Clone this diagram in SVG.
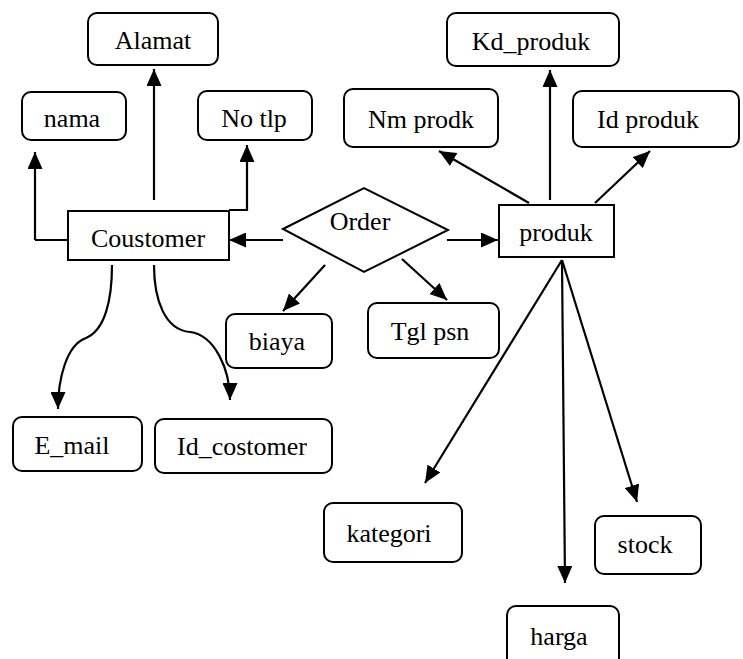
<svg xmlns="http://www.w3.org/2000/svg" width="743" height="659" viewBox="0 0 743 659">
<defs>
<marker id="ah" markerUnits="userSpaceOnUse" markerWidth="17" markerHeight="15" refX="17" refY="7.5" orient="auto" viewBox="0 0 17 15">
<path d="M0,0 L17,7.5 L0,15 z" fill="#000"/>
</marker>
</defs>
<style>
.attr{fill:#fff;stroke:#000;stroke-width:2}
.ent{fill:#fff;stroke:#000;stroke-width:2}
.t{font-family:'Liberation Serif','DejaVu Serif',serif;font-size:26px;fill:#000;text-anchor:middle}
.c{fill:none;stroke:#000;stroke-width:2.2}
.a{fill:none;stroke:#000;stroke-width:2.2;marker-end:url(#ah)}
</style>
<rect width="743" height="659" fill="#fff"/>
<g id="connectors">
<polyline class="c" points="68,240 35,240"/>
<line class="a" x1="35" y1="240" x2="35" y2="152"/>
<line class="a" x1="154" y1="200" x2="154" y2="69"/>
<polyline class="a" points="229,210 247,210 247,145"/>
<line class="a" x1="283" y1="240" x2="229" y2="240"/>
<line class="a" x1="447" y1="240" x2="498" y2="240"/>
<line class="a" x1="550" y1="200" x2="550" y2="70"/>
<line class="a" x1="529" y1="203" x2="439" y2="151"/>
<line class="a" x1="595" y1="203" x2="650" y2="151"/>
<line class="a" x1="562" y1="260" x2="425" y2="483"/>
<line class="a" x1="562" y1="260" x2="565" y2="583"/>
<line class="a" x1="562" y1="260" x2="637" y2="502"/>
<line class="a" x1="325" y1="265" x2="283" y2="311"/>
<line class="a" x1="402" y1="259" x2="447" y2="300"/>
<path class="a" d="M112,265 C112,300 105,330 86,338 C66,345 58,380 58,409"/>
<path class="a" d="M154,265 C154,300 165,330 190,332 C215,335 230,370 230,400"/>
</g>
<g id="Coustomer"><rect class="ent" x="68" y="211" width="161" height="49"/><text class="t" x="148" y="247">Coustomer</text></g>
<g id="Order"><polygon class="ent" points="283,229 364,188 448,230 364,272"/><text class="t" x="360" y="230">Order</text></g>
<g id="produk"><rect class="ent" x="499" y="205" width="115" height="52"/><text class="t" x="556" y="241">produk</text></g>
<g id="Alamat"><rect class="attr" x="88" y="13" width="130" height="52" rx="9"/><text class="t" x="153" y="49">Alamat</text></g>
<g id="nama"><rect class="attr" x="22" y="92" width="104" height="48" rx="9"/><text class="t" x="72" y="127">nama</text></g>
<g id="Notlp"><rect class="attr" x="198" y="91" width="114" height="49" rx="9"/><text class="t" x="254" y="127">No tlp</text></g>
<g id="Kd_produk"><rect class="attr" x="447" y="13" width="172" height="53" rx="9"/><text class="t" x="531" y="50">Kd_produk</text></g>
<g id="Nmprodk"><rect class="attr" x="344" y="89" width="154" height="58" rx="9"/><text class="t" x="421" y="128">Nm prodk</text></g>
<g id="Idproduk"><rect class="attr" x="573" y="91" width="166" height="56" rx="9"/><text class="t" x="648" y="128">Id produk</text></g>
<g id="biaya"><rect class="attr" x="226" y="314" width="106" height="54" rx="9"/><text class="t" x="277" y="350">biaya</text></g>
<g id="Tglpsn"><rect class="attr" x="368" y="303" width="131" height="55" rx="9"/><text class="t" x="430" y="340">Tgl psn</text></g>
<g id="E_mail"><rect class="attr" x="13" y="417" width="129" height="54" rx="9"/><text class="t" x="72" y="454">E_mail</text></g>
<g id="Id_costomer"><rect class="attr" x="155" y="419" width="177" height="54" rx="9"/><text class="t" x="242" y="455">Id_costomer</text></g>
<g id="kategori"><rect class="attr" x="324" y="503" width="138" height="59" rx="9"/><text class="t" x="389" y="542">kategori</text></g>
<g id="stock"><rect class="attr" x="595" y="516" width="106" height="58" rx="9"/><text class="t" x="645" y="553">stock</text></g>
<g id="harga"><rect class="attr" x="507" y="606" width="112" height="70" rx="9"/><text class="t" x="559" y="645">harga</text></g>
</svg>
